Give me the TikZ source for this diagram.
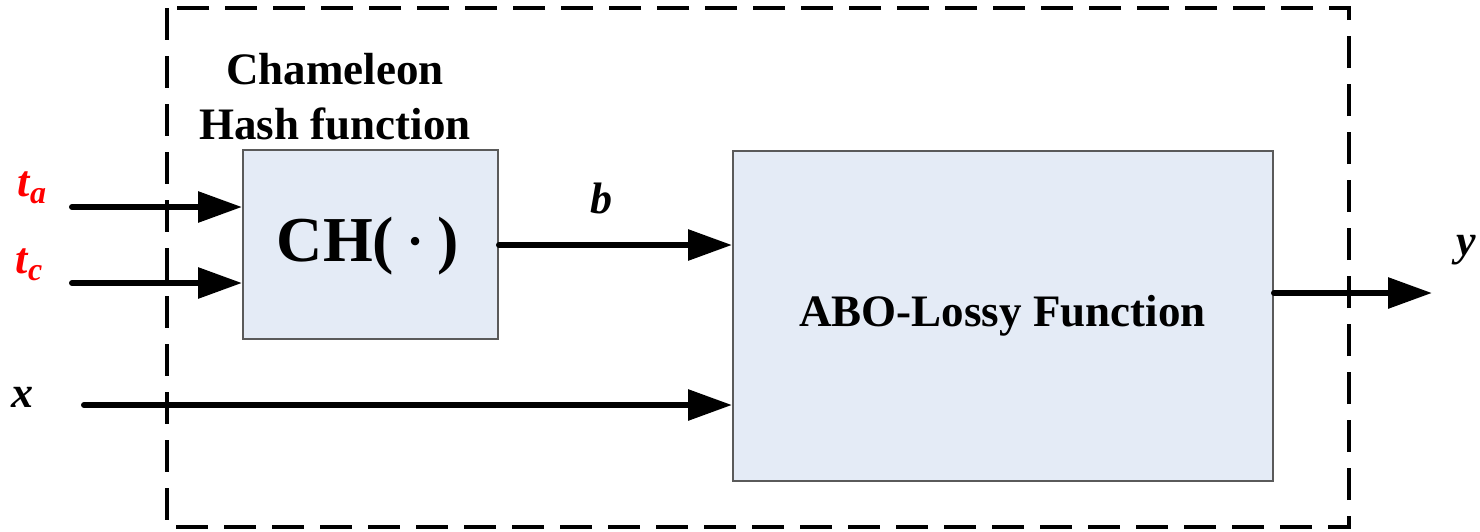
\documentclass[tikz,border=0pt]{standalone}
\usepackage{fontspec}
\usepackage{graphicx}
\setmainfont{Liberation Serif}
\usetikzlibrary{arrows.meta}
\definecolor{boxfill}{HTML}{E4EBF6}
\definecolor{boxline}{HTML}{5A5A5A}
\begin{document}
\begin{tikzpicture}[x=0.5pt,y=-0.5pt,
  block/.style={draw=boxline,line width=1pt,fill=boxfill},
  frame/.style={line width=2pt,dash pattern=on 16pt off 8pt},
  sig/.style={line width=3pt,line cap=round,-{Triangle[length=22pt,width=15pt]}},
  lbl/.style={font=\fontsize{22}{26}\selectfont\bfseries\itshape,inner sep=0pt},
  ttl/.style={font=\fontsize{22.5}{27.5}\selectfont\bfseries,align=center,inner sep=0pt}]
\useasboundingbox (0,0) rectangle (1480,531);
% enclosing dashed frame
\draw[frame] (167,8) rectangle (1349,527);
% blocks
\node[block,minimum width=127.5pt,minimum height=94.5pt,inner sep=0pt] (ch) at (370.5,244.5) {};
\node[font=\fontsize{32}{36}\selectfont\bfseries] (chtext) at (368,246) {CH(\,\scalebox{1.6}{$\cdot$}\,)};
\node[block,minimum width=270pt,minimum height=165pt,inner sep=0pt] (abo) at (1003,315.5) {};
\node[ttl] (abotext) at (1002.5,316) {ABO-Lossy Function};
\node[ttl] (chtitle) at (335,97) {Chameleon\\Hash function};
% input ends
\coordinate (ta0) at (72,207);
\coordinate (tc0) at (72,283);
\coordinate (x0) at (84,405);
\coordinate (y1) at (1432,293);
% labels
\node[lbl,red] (ta) at (32,188) {t\raisebox{-0.35ex}{\fontsize{16}{18}\selectfont a}};
\node[lbl,red] (tc) at (29,265) {t\raisebox{-0.35ex}{\fontsize{16}{18}\selectfont c}};
\node[lbl] (xl) at (22,397) {x};
\node[lbl] (bl) at (601,198) {b};
\node[lbl] (yl) at (1466,250) {y};
% signals
\draw[sig] (ta0) -- (ch.west |- ta0);
\draw[sig] (tc0) -- (ch.west |- tc0);
\draw[sig] (ch.east |- 0,245) -- (abo.west |- 0,245);
\draw[sig] (x0) -- (abo.west |- x0);
\draw[sig] (abo.east |- y1) -- (y1);
\end{tikzpicture}
\end{document}
